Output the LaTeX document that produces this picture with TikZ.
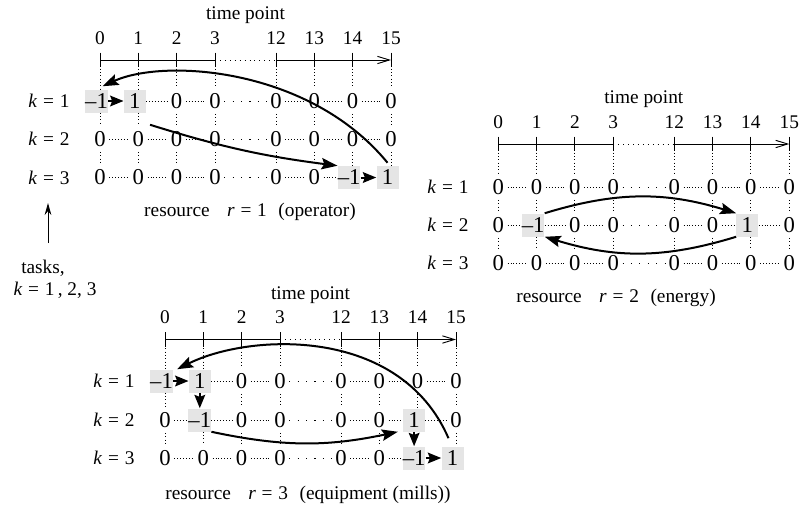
\documentclass[tikz,border=0pt]{standalone}
\usepackage{fontspec}
\setmainfont{Liberation Serif}
\usetikzlibrary{arrows.meta,calc}
\tikzset{
  lbl/.style={font=\fontsize{14.5}{16}\selectfont, inner sep=0pt},
  num/.style={font=\fontsize{17}{19}\selectfont, inner xsep=2.5pt, inner ysep=0pt, minimum height=19pt},
  hl/.style={font=\fontsize{17}{19}\selectfont, fill=gray!20, inner sep=0pt, minimum width=16.5pt, minimum height=17.25pt},
  axisline/.style={line width=0.7pt},
  vdots/.style={line width=0.75pt, dash pattern=on 0.75pt off 1.75pt},
  hdense/.style={line width=0.5pt, dash pattern=on 0.6pt off 1.6pt},
  hsparse/.style={line width=0.6pt, dash pattern=on 0.8pt off 5.5pt},
  adots/.style={line width=0.6pt, dash pattern=on 0.7pt off 3pt},
  longarrow/.style={line width=1.5pt, -{Stealth[length=12pt,width=8.5pt,inset=2pt]}},
  shortarrow/.style={line width=1.5pt, -{Stealth[length=10pt,width=8pt,inset=1.5pt]}},
  taskarrow/.style={line width=0.75pt, -{Stealth[length=9pt,width=5pt]}},
}
\newcommand\keq[1]{\textit{k}\hspace{0.3em}=\hspace{0.3em}#1}
\newcommand\req[1]{\textit{r}\hspace{0.3em}=\hspace{0.3em}#1}
\newcommand\PAxis[3]{%
  \foreach \lab/\dx [count=\cc from 0] in {0/0,1/38.3,2/76.6,3/115,12/176,13/214.3,14/252.6,15/291}{%
    \coordinate (#1a\cc) at (#2+\dx,#3);
    \node[lbl] (#1t\cc) at (#2+\dx,#3-22) {\lab};
    \draw[axisline] ([yshift=5.6pt]#1a\cc) -- ([yshift=-5.6pt]#1a\cc);
  }
  \draw[axisline] (#1a0) -- (#1a3);
  \draw[adots] (#1a3) -- (#1a4);
  \draw[axisline, -{Straight Barb[length=9pt,width=5.5pt]}] (#1a4) -- (#1a7);
  \node[lbl] (#1tp) at ($(#1a0)!0.5!(#1a7)+(0,-44.5)$) {time point};
}
\newcommand\PRow[6]{%
  \foreach \val [count=\cc from 0] in {#5}{%
    \pgfmathsetmacro\dx{{0,38.3,76.6,115,176,214.3,252.6,291}[\cc]}%
    \if n\val
      \node[hl] (#1r#2c\cc) at (#3+\dx-3.5,#4) {–1};
    \else\if p\val
      \node[hl] (#1r#2c\cc) at (#3+\dx-3.5,#4) {1};
    \else
      \node[num] (#1r#2c\cc) at (#3+\dx,#4) {0};
    \fi\fi
  }
  \foreach \cc in {0,...,6}{%
    \pgfmathtruncatemacro\dd{\cc+1}%
    \ifnum\cc=#6\relax\else
      \ifnum\cc=3 \draw[hsparse] (#1r#2c\cc) -- (#1r#2c\dd);
      \else \draw[hdense] (#1r#2c\cc) -- (#1r#2c\dd);\fi
    \fi
  }
}
\newcommand\PVert[4]{%
  \foreach \cc in {#2}{\draw[vdots] ([yshift=-6.5pt]#1a\cc) -- (#1a\cc |- #1r1c\cc.north);}
  \foreach \cc in {#3}{\draw[vdots] (#1a\cc |- #1r1c\cc.south) -- (#1a\cc |- #1r2c\cc.north);}
  \foreach \cc in {#4}{\draw[vdots] (#1a\cc |- #1r2c\cc.south) -- (#1a\cc |- #1r3c\cc.north);}
}
\begin{document}
\begin{tikzpicture}[x=0.75pt,y=-0.75pt]
\useasboundingbox (0,0) rectangle (802,507);
% ---------- panel 1
\PAxis{A}{100}{60}
\PRow{A}{1}{100}{101}{n,p,0,0,0,0,0,0}{0}
\PRow{A}{2}{100}{139}{0,0,0,0,0,0,0,0}{-1}
\PRow{A}{3}{100}{177.5}{0,0,0,0,0,0,n,p}{6}
\PVert{A}{0,...,7}{0,...,7}{0,...,7}
\node[lbl] (Ak1) at (49,101) {\keq{1}};
\node[lbl] (Ak2) at (49,139) {\keq{2}};
\node[lbl] (Ak3) at (49,177.5) {\keq{3}};
\node[lbl] (Acap) at (250,212) {resource\hspace{0.9em}\req{1}\hspace{0.6em}(operator)};
\draw[shortarrow] (Ar1c0) -- (Ar1c1);
\draw[shortarrow] (Ar3c6) -- (Ar3c7);
\draw[longarrow] ([shift={(4,12)}]Ar1c1.south east) to[bend right=5] (Ar3c6.north west);
\draw[longarrow] ([shift={(0,-3)}]Ar3c7.north) .. controls (310,68) and (165,58) .. ([shift={(6,-3)}]Ar1c0.north);
% ---------- panel 2
\PAxis{B}{498.3}{144}
\PRow{B}{1}{498.3}{187}{0,0,0,0,0,0,0,0}{-1}
\PRow{B}{2}{498.3}{225}{0,n,0,0,0,0,p,0}{-1}
\PRow{B}{3}{498.3}{263}{0,0,0,0,0,0,0,0}{-1}
\PVert{B}{0,...,7}{0,...,7}{0,...,7}
\node[lbl] (Bk1) at (448,187) {\keq{1}};
\node[lbl] (Bk2) at (448,225) {\keq{2}};
\node[lbl] (Bk3) at (448,263) {\keq{3}};
\node[lbl] (Bcap) at (616,298) {resource\hspace{0.9em}\req{2}\hspace{0.6em}(energy)};
\draw[longarrow] (Br2c1.north east) to[bend left=17] (Br2c6.north west);
\draw[longarrow] (Br2c6.south west) to[bend left=17] (Br2c1.south east);
% ---------- panel 3
\PAxis{C}{165}{339.5}
\PRow{C}{1}{165}{381}{n,p,0,0,0,0,0,0}{0}
\PRow{C}{2}{165}{420}{0,n,0,0,0,0,p,0}{-1}
\PRow{C}{3}{165}{458}{0,0,0,0,0,0,n,p}{6}
\PVert{C}{0,...,7}{0,2,3,4,5,6,7}{0,1,2,3,4,5,7}
\node[lbl] (Ck1) at (114,381) {\keq{1}};
\node[lbl] (Ck2) at (114,420) {\keq{2}};
\node[lbl] (Ck3) at (114,458) {\keq{3}};
\node[lbl] (Ccap) at (308,495) {resource\hspace{0.9em}\req{3}\hspace{0.6em}(equipment (mills))};
\draw[shortarrow] (Cr1c0) -- (Cr1c1);
\draw[shortarrow] (Cr1c1) -- (Cr2c1);
\draw[longarrow] (Cr2c1.south east) to[bend right=12] ([shift={(-5,0)}]Cr2c6.south west);
\draw[shortarrow] (Cr2c6) -- (Cr3c6);
\draw[shortarrow] (Cr3c6) -- (Cr3c7);
\draw[longarrow] ([shift={(-4,-8)}]Cr3c7.north) .. controls (400,326) and (250,333) .. ([shift={(4,0)}]Cr1c0.north east);
% ---------- tasks
\coordinate (tb) at (48,243);
\coordinate (tt) at (48,203);
\draw[taskarrow] (tb) -- (tt);
\node[lbl] (tasks) at (43,268) {tasks,};
\node[lbl] (tk) at (55,290) {\keq{1}\,, 2, 3};
\end{tikzpicture}
\end{document}
